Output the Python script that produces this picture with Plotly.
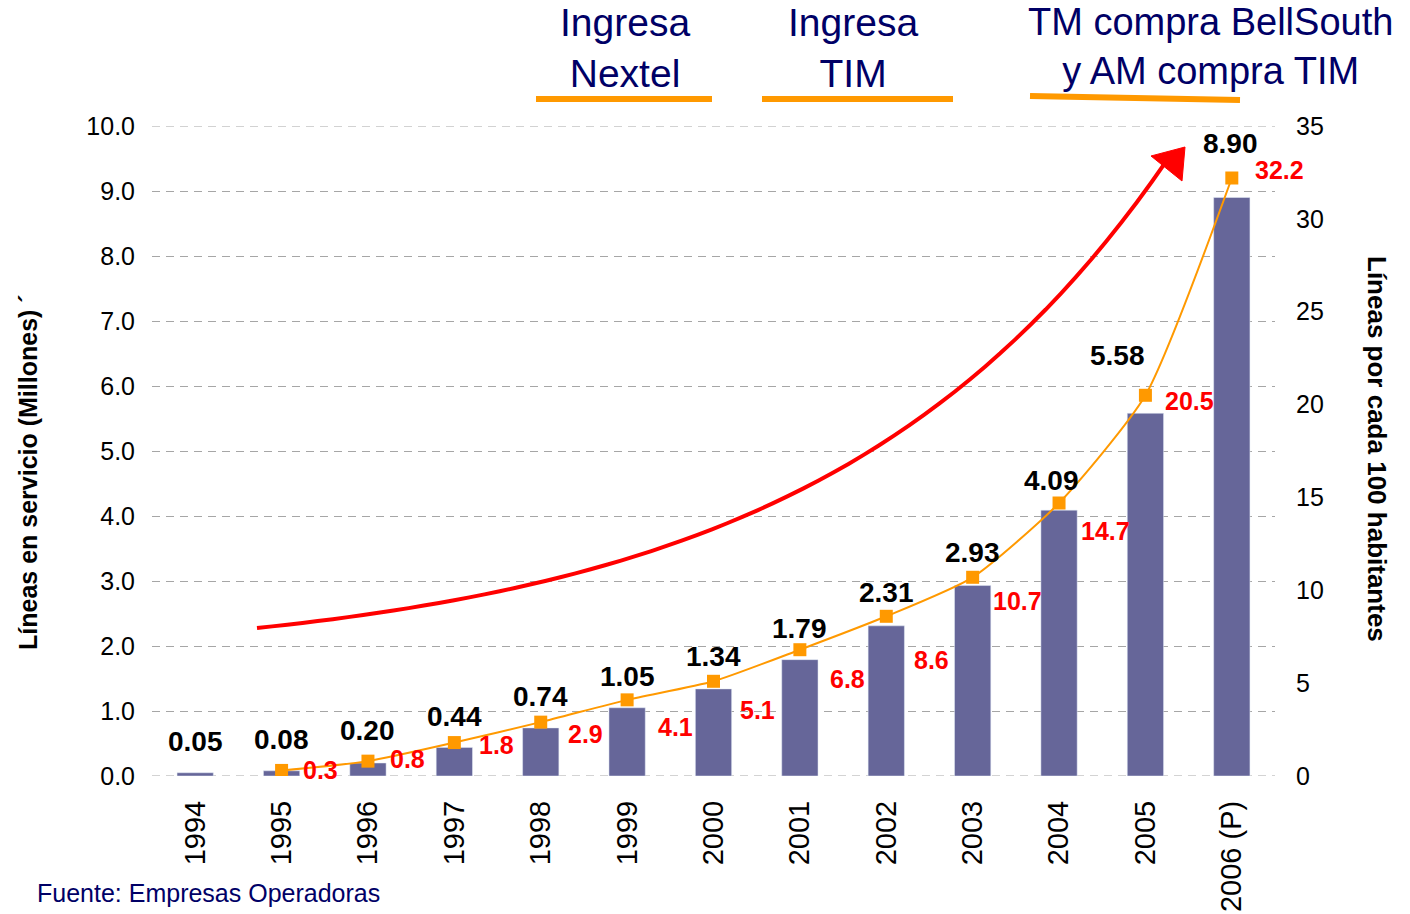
import math
import plotly.graph_objects as go

# ---------------- data ----------------
years = ['1994', '1995', '1996', '1997', '1998', '1999', '2000',
         '2001', '2002', '2003', '2004', '2005', '2006 (P)']
lines_millions = [0.05, 0.08, 0.20, 0.44, 0.74, 1.05, 1.34, 1.79, 2.31, 2.93, 4.09, 5.58, 8.90]
density_years = years[1:]
density = [0.3, 0.8, 1.8, 2.9, 4.1, 5.1, 6.8, 8.6, 10.7, 14.7, 20.5, 32.2]
left_ticks = [0, 1, 2, 3, 4, 5, 6, 7, 8, 9, 10]
right_ticks = [0, 5, 10, 15, 20, 25, 30, 35]
events = ['Ingresa<br>Nextel', 'Ingresa<br>TIM', 'TM compra BellSouth<br>y AM compra TIM']

# ---------------- label offsets (pixels) ----------------
bar_lab_dy = [31, 31, 33, 31, 31, 31, 32, 31, 33, 33, 30, 58, 54]
bar_lab_dx = [0, 0, 0, 0, 0, 0, 0, 0, 0, 0, -8, -28, -1]
dens_lab_dx = [39, 40, 42, 45, 48, 44, 48, 45, 45, 46, 44, 48]
dens_lab_dy = [0, -2, 2, 12, 27, 29, 29, 44, 24, 28, 6, -8]

FONT = "Liberation Sans, Arial, Helvetica, sans-serif"
NAVY = "#000066"
ORANGE = "#FF9900"
BAR = "#666699"
GRID = "#a6a6a6"

# plot area in pixels
L, R, T, B = 152, 1275, 126, 776
W, H = 1410, 914


def px(x):
    return (x - L) / (R - L)


def py(y):
    return (B - y) / (B - T)


fig = go.Figure()
fig.add_trace(go.Bar(x=years, y=lines_millions, marker_color=BAR, width=0.42,
                     hoverinfo='x+y'))
fig.add_trace(go.Scatter(x=density_years, y=density, yaxis='y2', mode='lines+markers',
                         line=dict(color=ORANGE, width=2, shape='spline', smoothing=0.6),
                         marker=dict(symbol='square', size=13, color=ORANGE)))

ann = []
for i, v in enumerate(lines_millions):
    ann.append(dict(x=i, y=v, xref='x', yref='y', text=f"{v:.2f}", showarrow=False,
                    xshift=bar_lab_dx[i], yshift=bar_lab_dy[i], yanchor='middle',
                    font=dict(family=FONT, size=28, color='black', weight='bold')))
for i, v in enumerate(density):
    ann.append(dict(x=i + 1, y=v, xref='x', yref='y2', text=f"{v:.1f}", showarrow=False,
                    xshift=dens_lab_dx[i], yshift=-dens_lab_dy[i], yanchor='middle',
                    font=dict(family=FONT, size=25, color='#FF0000', weight='bold')))

# event texts
ev_x = [625, 853, 1210]
ev_y = [48, 48, 46]
ev_size = [39, 39, 38]
for t, x, y, s in zip(events, ev_x, ev_y, ev_size):
    ann.append(dict(x=px(x), y=py(y), xref='paper', yref='paper', text=t, showarrow=False,
                    xanchor='center', yanchor='middle', align='center',
                    font=dict(family=FONT, size=s, color=NAVY)))

# axis titles
ann.append(dict(x=px(28), y=py(472), xref='paper', yref='paper',
                text="Líneas en servicio (Millones) ´", showarrow=False, textangle=-90,
                xanchor='center', yanchor='middle',
                font=dict(family=FONT, size=25, color='black', weight='bold')))
ann.append(dict(x=px(1377), y=py(449), xref='paper', yref='paper',
                text="Líneas por cada 100 habitantes", showarrow=False, textangle=90,
                xanchor='center', yanchor='middle',
                font=dict(family=FONT, size=26, color='black', weight='bold')))
ann.append(dict(x=px(36), y=py(878), xref='paper', yref='paper',
                text="Fuente: Empresas Operadoras", showarrow=False,
                xanchor='left', yanchor='top', borderpad=0,
                font=dict(family=FONT, size=25, color=NAVY)))

# decorative red growth arrow (smooth exponential-like sweep)
x_start, x_end = 257, 1167
curve = []
steps = 60
for s in range(steps + 1):
    xs = x_start + (x_end - x_start) * s / steps
    ys = 628 - 36 * (math.exp(0.0029 * (xs - x_start)) - 1)
    curve.append((px(xs), py(ys)))
path = "M " + " L ".join(f"{a:.5f},{b:.5f}" for a, b in curve)

head = [(1185, 147), (1151, 156), (1182, 181)]
head_path = "M " + " L ".join(f"{px(x):.5f},{py(y):.5f}" for x, y in head) + " Z"

shapes = [
    dict(type='line', xref='paper', yref='y', x0=0, x1=1, y0=left_ticks[0], y1=left_ticks[0],
         layer='below', line=dict(color=GRID, width=1, dash='8px,6px')),
    dict(type='line', xref='paper', yref='y', x0=0, x1=1, y0=left_ticks[-1], y1=left_ticks[-1],
         layer='below', line=dict(color=GRID, width=1, dash='8px,6px')),
    dict(type='path', path=path, xref='paper', yref='paper',
         line=dict(color='#FF0000', width=4)),
    dict(type='path', path=head_path, xref='paper', yref='paper',
         fillcolor='#FF0000', line=dict(color='#FF0000', width=1)),
    dict(type='line', xref='paper', yref='paper', x0=px(536), x1=px(712), y0=py(99), y1=py(99),
         line=dict(color=ORANGE, width=6)),
    dict(type='line', xref='paper', yref='paper', x0=px(762), x1=px(953), y0=py(99), y1=py(99),
         line=dict(color=ORANGE, width=6)),
    dict(type='line', xref='paper', yref='paper', x0=px(1030), x1=px(1240), y0=py(96), y1=py(100),
         line=dict(color=ORANGE, width=6)),
]

fig.update_layout(
    width=W, height=H,
    margin=dict(l=L, r=W - R, t=T, b=H - B, pad=0, autoexpand=False),
    paper_bgcolor='white', plot_bgcolor='white',
    showlegend=False,
    font=dict(family=FONT, color='black'),
    xaxis=dict(type='category', range=[-0.5, 12.5], showgrid=False, showline=False,
               zeroline=False, ticks='', tickangle=-90, ticklabelstandoff=18,
               automargin=False,
               tickfont=dict(family=FONT, size=29, color='black')),
    yaxis=dict(range=[0, 10], tickvals=left_ticks,
               ticktext=[f"{v:.1f}" for v in left_ticks],
               showgrid=True, gridcolor=GRID, gridwidth=1, griddash='8px,6px',
               zeroline=False, showline=False, ticks='', ticklabelstandoff=16,
               automargin=False,
               tickfont=dict(family=FONT, size=25, color='black')),
    yaxis2=dict(range=[0, 35], tickvals=right_ticks, overlaying='y', side='right',
                showgrid=False, zeroline=False, showline=False, ticks='',
                ticklabelstandoff=20, automargin=False,
                tickfont=dict(family=FONT, size=25, color='black')),
    annotations=ann,
    shapes=shapes,
)

fig.write_html("out.html", config={'displayModeBar': False},
               post_script="document.body.style.margin='0px';document.body.style.overflow='hidden';")
